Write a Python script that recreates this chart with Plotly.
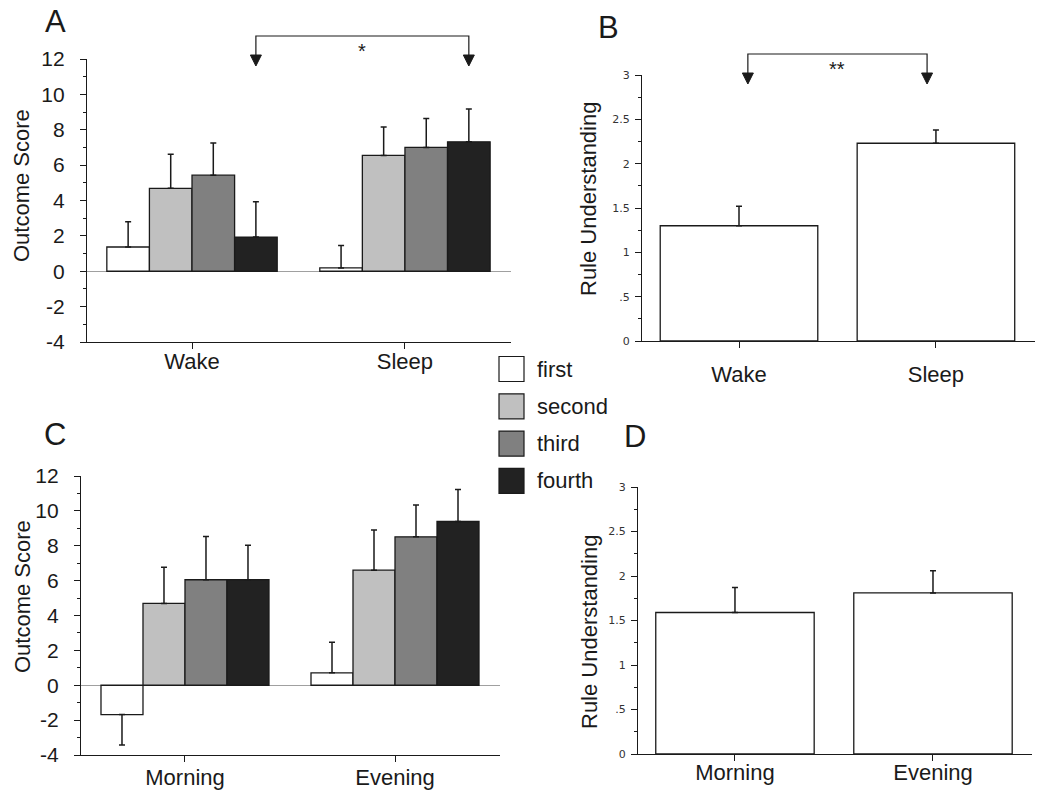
import plotly.graph_objects as go

W, H = 1050, 795

def px(x):
    return x / W

def py(y):
    return 1 - y / H

# ---------------- data ----------------
categories_AB = ["Wake", "Sleep"]
categories_CD = ["Morning", "Evening"]
series_names = ["first", "second", "third", "fourth"]
series_colors = ["#ffffff", "#c0c0c0", "#808080", "#222222"]

A_first = [1.37, 0.19]
A_second = [4.69, 6.55]
A_third = [5.43, 7.00]
A_fourth = [1.93, 7.32]
A_first_err = [1.43, 1.26]
A_second_err = [1.92, 1.60]
A_third_err = [1.82, 1.63]
A_fourth_err = [2.00, 1.86]

C_first = [-1.68, 0.71]
C_second = [4.69, 6.60]
C_third = [6.05, 8.51]
C_fourth = [6.05, 9.39]
C_first_err = [1.75, 1.75]
C_second_err = [2.08, 2.31]
C_third_err = [2.48, 1.83]
C_fourth_err = [1.98, 1.83]

B_values = [1.30, 2.23]
B_err = [0.22, 0.15]
D_values = [1.59, 1.81]
D_err = [0.28, 0.25]

outcome_tickvals = [-4, -2, 0, 2, 4, 6, 8, 10, 12]
outcome_ticktext = ["-4", "-2", "0", "2", "4", "6", "8", "10", "12"]
rule_tickvals = [0, 0.5, 1, 1.5, 2, 2.5, 3]
rule_ticktext = ["0", ".5", "1", "1.5", "2", "2.5", "3"]

FONT = "Liberation Sans, Arial, Helvetica, sans-serif"
INK = "#1a1a1a"

# ---------------- layout geometry (pixels) ----------------
panels = {
    "A": dict(xdom=(80, 511), ydom=(342, 59), ypos=86, xr=(-0.526, 1.498), yr=(-4, 12), xstand=-7),
    "B": dict(xdom=(636, 1035), ydom=(341, 75), ypos=641, xr=(-0.523, 1.503), yr=(0, 3), xstand=7),
    "C": dict(xdom=(76, 500), ydom=(755, 476), ypos=80, xr=(-0.519, 1.50), yr=(-4, 12), xstand=-4),
    "D": dict(xdom=(632, 1032), ydom=(754, 487), ypos=637, xr=(-0.52, 1.50), yr=(0, 3), xstand=-8),
}
axis_ids = {"A": "", "B": "2", "C": "3", "D": "4"}


def data_x_to_px(panel, x):
    p = panels[panel]
    x0, x1 = p["xdom"]
    r0, r1 = p["xr"]
    return x0 + (x - r0) / (r1 - r0) * (x1 - x0)


def one_sided(vals, errs):
    plus = [e if v >= 0 else 0 for v, e in zip(vals, errs)]
    minus = [0 if v >= 0 else e for v, e in zip(vals, errs)]
    return plus, minus


fig = go.Figure()

err_style = dict(type="data", symmetric=False, color=INK, thickness=1.5, width=3)


def add_bar(panel, vals, errs, color, name):
    sid = axis_ids[panel]
    plus, minus = one_sided(vals, errs)
    fig.add_trace(go.Bar(
        x=[0, 1], y=vals, name=name, showlegend=False,
        marker=dict(color=color, line=dict(color=INK, width=1.3)),
        error_y=dict(array=plus, arrayminus=minus, **err_style),
        xaxis="x" + sid, yaxis="y" + sid, offsetgroup=name,
    ))


A_series = [(A_first, A_first_err), (A_second, A_second_err),
            (A_third, A_third_err), (A_fourth, A_fourth_err)]
C_series = [(C_first, C_first_err), (C_second, C_second_err),
            (C_third, C_third_err), (C_fourth, C_fourth_err)]

for (vals, errs), col, nm in zip(A_series, series_colors, series_names):
    add_bar("A", vals, errs, col, nm)
for (vals, errs), col, nm in zip(C_series, series_colors, series_names):
    add_bar("C", vals, errs, col, nm)

add_bar("B", B_values, B_err, "#ffffff", "rule")
add_bar("D", D_values, D_err, "#ffffff", "rule")

layout = dict(
    template="none",
    width=W, height=H, autosize=False,
    margin=dict(l=0, r=0, t=0, b=0, pad=0),
    paper_bgcolor="white", plot_bgcolor="white",
    barmode="group", bargap=0.2, bargroupgap=0,
    font=dict(family=FONT, color=INK),
    showlegend=False,
)

for key, p in panels.items():
    sid = axis_ids[key]
    cats = categories_AB if key in ("A", "B") else categories_CD
    layout["xaxis" + sid] = dict(
        domain=[px(p["xdom"][0]), px(p["xdom"][1])],
        range=list(p["xr"]), anchor="y" + sid, automargin=False,
        tickvals=[0, 1], ticktext=cats,
        ticks="outside", ticklen=6, tickwidth=1.2, tickcolor=INK,
        showline=True, linecolor=INK, linewidth=1.3,
        showgrid=False, zeroline=False,
        tickfont=dict(size=22, family=FONT, color=INK),
        ticklabelstandoff=p["xstand"],
    )
    ycommon = dict(
        domain=[py(p["ydom"][0]), py(p["ydom"][1])],
        range=list(p["yr"]), anchor="free", position=px(p["ypos"]),
        automargin=False,
        ticks="outside", ticklen=6, tickwidth=1.2, tickcolor=INK,
        showline=True, linecolor=INK, linewidth=1.3,
        showgrid=False,
    )
    if key in ("A", "C"):
        ycommon.update(
            tickvals=outcome_tickvals, ticktext=outcome_ticktext,
            minor=dict(dtick=1, ticklen=3, ticks="outside", tickcolor=INK, showgrid=False),
            zeroline=True, zerolinecolor="#a0a0a0", zerolinewidth=1.2,
            tickfont=dict(size=21, family=FONT, color=INK),
            ticklabelstandoff=11,
        )
    else:
        ycommon.update(
            tickvals=rule_tickvals, ticktext=rule_ticktext,
            minor=dict(dtick=0.25, ticklen=3, ticks="outside", tickcolor=INK, showgrid=False),
            zeroline=False,
            tickfont=dict(size=11, family="DejaVu Sans, sans-serif", color="#333333"),
            ticklabelstandoff=3,
        )
    layout["yaxis" + sid] = ycommon

fig.update_layout(**layout)

annotations = []
shapes = []

# panel letters
for letter, (lx, ly) in {"A": (55, 22), "B": (608, 28), "C": (55, 434), "D": (635, 436)}.items():
    annotations.append(dict(text=letter, x=px(lx), y=py(ly), xref="paper", yref="paper",
                            showarrow=False, font=dict(size=31, family=FONT, color=INK),
                            xanchor="center", yanchor="middle"))

# axis titles
for txt, (tx, ty) in [("Outcome Score", (22, 186)), ("Rule Understanding", (589, 199)),
                      ("Outcome Score", (22, 597)), ("Rule Understanding", (589, 632))]:
    annotations.append(dict(text=txt, x=px(tx), y=py(ty), xref="paper", yref="paper",
                            showarrow=False, textangle=-90,
                            font=dict(size=22, family=FONT, color=INK),
                            xanchor="center", yanchor="middle"))

# significance brackets
brackets = [
    dict(panel="A", xs=(0.3, 1.3), ytop=36, ytip=66, label="*", ylabel=51),
    dict(panel="B", xs=(0.045, 0.955), ytop=54, ytip=84, label="**", ylabel=69),
]
for b in brackets:
    xa = data_x_to_px(b["panel"], b["xs"][0])
    xb = data_x_to_px(b["panel"], b["xs"][1])
    tri_top = b["ytip"] - 11
    path = f"M {px(xa)},{py(tri_top)} L {px(xa)},{py(b['ytop'])} L {px(xb)},{py(b['ytop'])} L {px(xb)},{py(tri_top)}"
    shapes.append(dict(type="path", path=path, xref="paper", yref="paper",
                       line=dict(color=INK, width=1.2)))
    for xc in (xa, xb):
        tri = (f"M {px(xc - 5.5)},{py(tri_top)} L {px(xc + 5.5)},{py(tri_top)} "
               f"L {px(xc)},{py(b['ytip'])} Z")
        shapes.append(dict(type="path", path=tri, xref="paper", yref="paper",
                           fillcolor=INK, line=dict(color=INK, width=1)))
    annotations.append(dict(text=b["label"], x=px((xa + xb) / 2), y=py(b["ylabel"]),
                            xref="paper", yref="paper", showarrow=False,
                            font=dict(size=20, family=FONT, color=INK),
                            xanchor="center", yanchor="middle"))

# legend (manual)
leg_x0, leg_size, leg_y0, leg_step = 499, 25, 369, 37.3
for i, (nm, col) in enumerate(zip(series_names, series_colors)):
    cy = leg_y0 + i * leg_step
    shapes.append(dict(type="rect", xref="paper", yref="paper",
                       x0=px(leg_x0), x1=px(leg_x0 + leg_size),
                       y0=py(cy + leg_size / 2), y1=py(cy - leg_size / 2),
                       fillcolor=col, line=dict(color=INK, width=1.2)))
    annotations.append(dict(text=nm, x=px(535), y=py(cy), xref="paper", yref="paper",
                            showarrow=False, xanchor="left", yanchor="middle",
                            font=dict(size=22, family=FONT, color=INK)))

fig.update_layout(annotations=annotations, shapes=shapes)

fig.write_html("out.html", config={"displayModeBar": False},
               post_script="document.body.style.margin='0';")
